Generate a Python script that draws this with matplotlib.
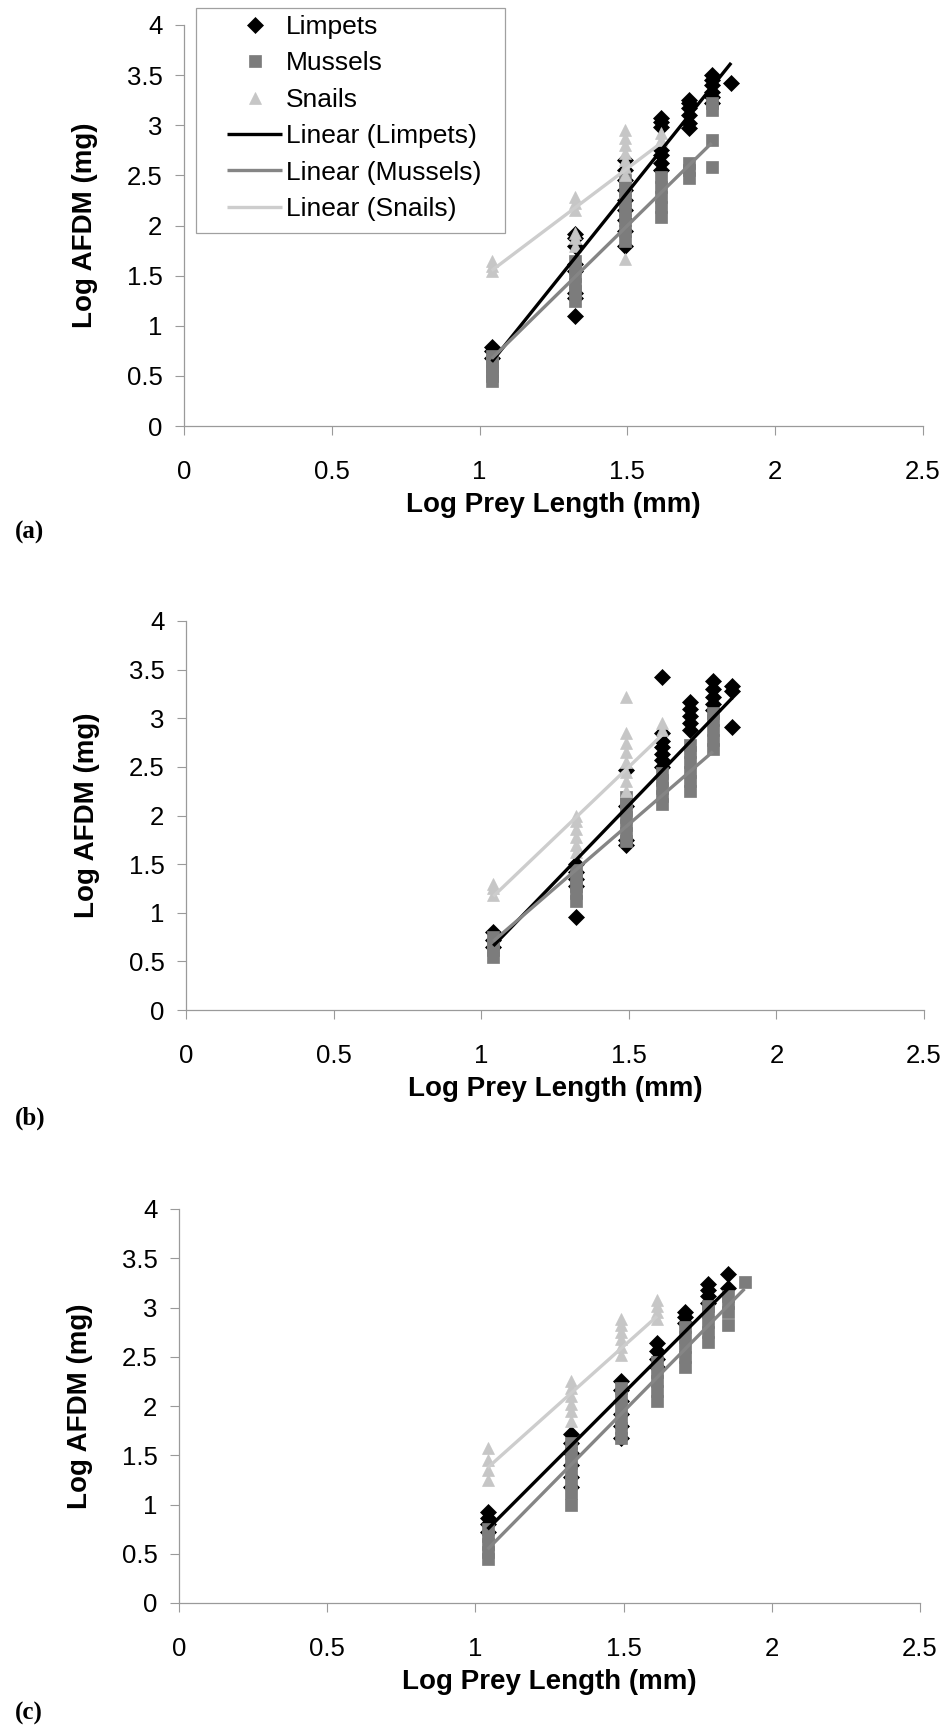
import matplotlib
matplotlib.use('Agg')
import matplotlib.pyplot as plt
import numpy as np
from matplotlib.patches import Rectangle
from matplotlib.ticker import FormatStrFormatter

# log10 prey length classes (mm)
log_len = [1.041, 1.322, 1.491, 1.613, 1.708, 1.785, 1.851, 1.908]

# log AFDM values per length class, one list per class (a), (b), (c)
limpets_a = [[0.68, 0.75, 0.79], [1.10, 1.28, 1.33, 1.55, 1.62, 1.80, 1.88, 1.92],
             [1.80, 1.95, 2.05, 2.15, 2.25, 2.35, 2.45, 2.55, 2.65],
             [2.55, 2.62, 2.70, 2.75, 2.98, 3.03, 3.07], [2.97, 3.02, 3.10, 3.17, 3.22, 3.25],
             [3.22, 3.28, 3.33, 3.40, 3.45, 3.50], [3.42], []]
mussels_a = [[0.45, 0.50, 0.55, 0.60, 0.65, 0.70], [1.25, 1.35, 1.42, 1.50, 1.58, 1.65],
             [1.85, 1.95, 2.05, 2.15, 2.25, 2.35, 2.45], [2.08, 2.18, 2.28, 2.38, 2.48],
             [2.47, 2.55, 2.62], [2.58, 2.85, 3.15, 3.22], [], []]
snails_a = [[1.55, 1.60, 1.65], [1.80, 1.88, 1.93, 2.15, 2.22, 2.28],
            [1.67, 2.50, 2.58, 2.65, 2.72, 2.80, 2.87, 2.95], [2.85, 2.92], [], [], [], []]

limpets_b = [[0.65, 0.72, 0.80], [0.96, 1.28, 1.35, 1.42, 1.50], [1.70, 1.75, 2.10, 2.47],
             [2.50, 2.57, 2.63, 2.70, 2.77, 2.85, 3.42], [2.88, 2.95, 3.02, 3.10, 3.17],
             [3.08, 3.15, 3.22, 3.30, 3.38], [2.91, 3.28, 3.33], []]
mussels_b = [[0.55, 0.62, 0.68, 0.75], [1.12, 1.20, 1.28, 1.36, 1.44],
             [1.74, 1.82, 1.90, 1.98, 2.06, 2.14, 2.19], [2.12, 2.20, 2.28, 2.36, 2.44],
             [2.25, 2.35, 2.45, 2.55, 2.65, 2.72], [2.68, 2.78, 2.88, 2.98, 3.05], [], []]
snails_b = [[1.18, 1.25, 1.30], [1.62, 1.70, 1.78, 1.86, 1.94, 2.00],
            [2.25, 2.35, 2.45, 2.55, 2.65, 2.75, 2.85, 3.22], [2.88, 2.95], [], [], [], []]

limpets_c = [[0.72, 0.80, 0.86, 0.92], [1.18, 1.28, 1.40, 1.52, 1.62, 1.72],
             [1.68, 1.80, 1.92, 2.05, 2.16, 2.25], [2.40, 2.48, 2.56, 2.64],
             [2.84, 2.90, 2.95], [3.05, 3.12, 3.18, 3.24], [3.20, 3.34], []]
mussels_c = [[0.45, 0.52, 0.60, 0.68, 0.75], [1.00, 1.12, 1.22, 1.32, 1.42, 1.52, 1.62],
             [1.68, 1.78, 1.88, 1.98, 2.08, 2.18], [2.05, 2.15, 2.25, 2.35, 2.45],
             [2.40, 2.50, 2.60, 2.70, 2.80], [2.65, 2.75, 2.85, 2.95, 3.02],
             [2.82, 2.95, 3.05, 3.12], [3.26]]
snails_c = [[1.25, 1.35, 1.45, 1.57], [1.85, 1.95, 2.02, 2.10, 2.18, 2.25],
            [2.52, 2.60, 2.68, 2.75, 2.82, 2.88], [2.88, 2.95, 3.02, 3.08], [], [], [], []]

# linear trendlines: (slope, intercept) for panels a, b, c
trend_limpets = [(3.68, -3.19), (3.15, -2.62), (3.01, -2.384)]
trend_mussels = [(2.89, -2.336), (2.62, -2.02), (3.05, -2.63)]
trend_snails = [(2.22, -0.76), (2.90, -1.85), (2.69, -1.428)]

panel_labels = ['(a)', '(b)', '(c)']

plt.rcParams['font.family'] = ['Liberation Sans', 'DejaVu Sans']

colors = {'Limpets': 'black', 'Mussels': '#7c7c7c', 'Snails': '#c6c6c6'}
line_colors = {'Limpets': 'black', 'Mussels': '#858585', 'Snails': '#cdcdcd'}
markers = {'Limpets': ('D', 8.0), 'Mussels': ('s', 8.6), 'Snails': ('^', 8.4)}

W, H = 952, 1729
fig = plt.figure(figsize=(W / 100, H / 100), dpi=100)

# axes boxes in pixels: left, right, top, bottom
boxes = [(184, 923, 25, 426), (186, 924, 621, 1010), (179, 920, 1209, 1603)]
letter_y = [532, 1118, 1713]

panels = [(limpets_a, mussels_a, snails_a), (limpets_b, mussels_b, snails_b),
          (limpets_c, mussels_c, snails_c)]


def flatten(cols):
    xs, ys = [], []
    for x, col in zip(log_len, cols):
        xs += [x] * len(col)
        ys += col
    return np.array(xs), np.array(ys)


legend_handles = []
for i, (series, box) in enumerate(zip(panels, boxes)):
    l, r, t, b = box
    ax = fig.add_axes([l / W, 1 - b / H, (r - l) / W, (b - t) / H])
    names = ['Limpets', 'Mussels', 'Snails']
    trends = [trend_limpets[i], trend_mussels[i], trend_snails[i]]
    for name, cols in zip(names, series):
        xs, ys = flatten(cols)
        m, ms = markers[name]
        h, = ax.plot(xs, ys, linestyle='none', marker=m, ms=ms, color=colors[name],
                     mec=colors[name], mew=0.5, zorder=3, label=name)
        if i == 0:
            legend_handles.append(h)
    for name, cols, (k, c) in zip(names, series, trends):
        xs, ys = flatten(cols)
        xl = np.array([xs.min(), xs.max()])
        h, = ax.plot(xl, k * xl + c, color=line_colors[name], lw=2.4, zorder=4,
                     label='Linear (%s)' % name, solid_capstyle='butt')
        if i == 0:
            legend_handles.append(h)

    ax.set_xlim(0, 2.5)
    ax.set_ylim(0, 4)
    ax.set_xticks(np.arange(0, 2.51, 0.5))
    ax.set_yticks(np.arange(0, 4.01, 0.5))
    ax.xaxis.set_major_formatter(FormatStrFormatter('%g'))
    ax.yaxis.set_major_formatter(FormatStrFormatter('%g'))
    for s in ['top', 'right']:
        ax.spines[s].set_visible(False)
    for s in ['left', 'bottom']:
        ax.spines[s].set_color('#9a9a9a')
        ax.spines[s].set_linewidth(0.9)
    ax.tick_params(axis='both', labelsize=18.5, color='#9a9a9a', length=6.5, width=0.8)
    ax.tick_params(axis='x', pad=18)
    ax.tick_params(axis='y', pad=9)
    ax.patch.set_visible(False)

    ax.set_xlabel('Log Prey Length (mm)', fontsize=20, fontweight='bold')
    ax.xaxis.set_label_coords(0.5, -66 / (b - t))
    ax.set_ylabel('Log AFDM (mg)', fontsize=20, fontweight='bold')
    ax.yaxis.set_label_coords(-86 / (r - l), 0.5)

    fig.text(15 / W, 1 - letter_y[i] / H, panel_labels[i], ha='left', va='center',
             family='Liberation Serif', fontweight='bold', fontsize=18)

# legend frame drawn separately (box is wider than the entries)
fig.add_artist(Rectangle((196 / W, 1 - 233 / H), 309 / W, 225 / H, transform=fig.transFigure,
                         facecolor='white', edgecolor='#a0a0a0', lw=0.9, zorder=4))
fig.legend(handles=legend_handles, loc='upper left', bbox_to_anchor=(227 / W, 1 - 15 / H),
           frameon=False, fontsize=19, borderpad=0, borderaxespad=0, handlelength=2.1,
           handletextpad=0.12, labelspacing=0.47, numpoints=1)

fig.savefig('out.png', dpi=100)
